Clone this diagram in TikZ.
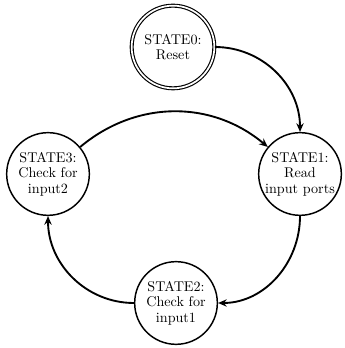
\documentclass[tikz,border=0pt]{standalone}
\usetikzlibrary{arrows.meta}
\begin{document}
\begin{tikzpicture}[x=0.75pt,y=0.75pt,
  state/.style={circle,draw,line width=1.1pt,minimum size=62pt,inner sep=0pt,
    align=center,font=\fontsize{10.6}{11.6}\selectfont},
  initial/.style={state,line width=0.85pt,double,double distance=1.3pt},
  trans/.style={line width=1.4pt,-{Stealth[length=6.5pt,width=5.5pt]}}]
\useasboundingbox (0,0) rectangle (344,348);
\node[initial] (s0) at (173,301) {STATE0:\\Reset};
\node[state] (s1) at (300,174) {STATE1:\\Read\\input ports};
\node[state] (s2) at (176,45) {STATE2:\\Check for\\input1};
\node[state] (s3) at (48,174) {STATE3:\\Check for\\input2};
\draw[trans] (s0) to[out=0,in=90] (s1);
\draw[trans] (s3) to[out=40,in=140] (s1);
\draw[trans] (s1) to[out=-90,in=0] (s2);
\draw[trans] (s2) to[out=180,in=-90] (s3);
\end{tikzpicture}
\end{document}
